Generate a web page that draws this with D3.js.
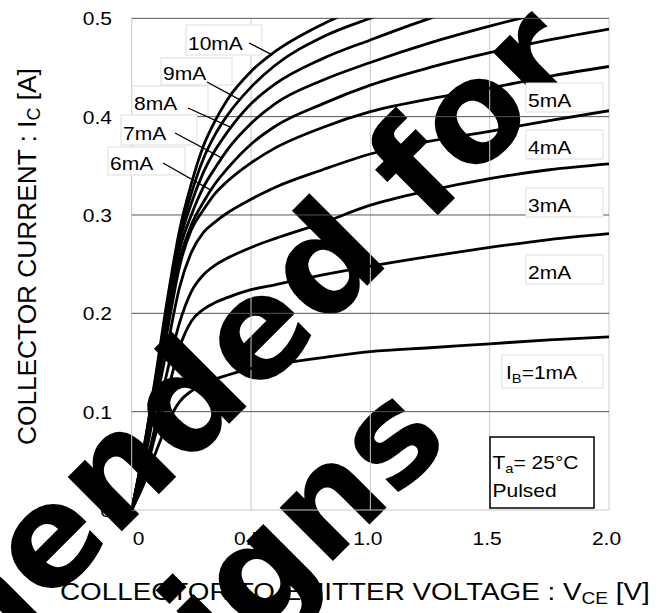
<!DOCTYPE html>
<html>
<head>
<meta charset="utf-8">
<script src="https://cdn.jsdelivr.net/npm/d3@7"></script>
<style>
  body { margin: 0; background: #fff; }
  svg { display: block; }
  text { font-family: "Liberation Sans", Arial, sans-serif; fill: #000; }
</style>
</head>
<body>
<div class="chart"></div>
<script>
// collector voltage grid (V) shared by every curve
const vce = [0, 0.05, 0.1, 0.15, 0.2, 0.25, 0.3, 0.35, 0.4, 0.5, 0.6, 0.8, 1.0, 1.25, 1.5, 1.75, 2.0];

// collector current (A) for each base current
const ic1mA  = [0, 0.026, 0.058, 0.088, 0.11, 0.121, 0.128, 0.133, 0.137, 0.144, 0.148, 0.155, 0.161, 0.165, 0.169, 0.173, 0.176];
const ic2mA  = [0, 0.031, 0.077, 0.12, 0.165, 0.192, 0.204, 0.211, 0.216, 0.224, 0.229, 0.239, 0.248, 0.258, 0.267, 0.275, 0.281];
const ic3mA  = [0, 0.036, 0.087, 0.142, 0.19, 0.222, 0.239, 0.249, 0.256, 0.267, 0.276, 0.292, 0.31, 0.325, 0.337, 0.346, 0.352];
const ic4mA  = [0, 0.046, 0.107, 0.167, 0.226, 0.262, 0.282, 0.293, 0.302, 0.316, 0.328, 0.346, 0.362, 0.375, 0.385, 0.396, 0.406];
const ic5mA  = [0, 0.051, 0.117, 0.183, 0.247, 0.285, 0.305, 0.322, 0.334, 0.353, 0.368, 0.389, 0.405, 0.418, 0.429, 0.441, 0.451];
const ic6mA  = [0, 0.056, 0.123, 0.194, 0.254, 0.29, 0.313, 0.332, 0.347, 0.372, 0.39, 0.413, 0.432, 0.45, 0.465, 0.478, 0.489];
const ic7mA  = [0, 0.058, 0.128, 0.2, 0.264, 0.30, 0.328, 0.348, 0.366, 0.393, 0.413, 0.437, 0.455, 0.475, 0.492, 0.507, 0.52];
const ic8mA  = [0, 0.06, 0.131, 0.205, 0.272, 0.312, 0.343, 0.366, 0.384, 0.413, 0.433, 0.459, 0.478, 0.5, 0.518, 0.535, 0.55];
const ic9mA  = [0, 0.061, 0.133, 0.21, 0.278, 0.322, 0.357, 0.382, 0.401, 0.43, 0.452, 0.481, 0.5, 0.52, 0.54, 0.56, 0.58];
const ic10mA = [0, 0.062, 0.136, 0.215, 0.284, 0.332, 0.37, 0.396, 0.417, 0.446, 0.466, 0.494, 0.515, 0.54, 0.56, 0.58, 0.6];

const series = [ic1mA, ic2mA, ic3mA, ic4mA, ic5mA, ic6mA, ic7mA, ic8mA, ic9mA, ic10mA];

const xTicks = [0, 0.5, 1.0, 1.5, 2.0];
const xTickLabels = ['0', '0.5', '1.0', '1.5', '2.0'];
const yTicks = [0, 0.1, 0.2, 0.3, 0.4, 0.5];
const yTickLabels = ['0', '0.1', '0.2', '0.3', '0.4', '0.5'];

// curve labels on the left with leader lines to the curve (target in V / A)
const leftLabels = [
  { text: '10mA', box: [186, 25, 76, 30], leader: [249, 43], to: [0.587, 0.463] },
  { text: '9mA',  box: [161, 58, 71, 27], leader: [207, 82], to: [0.454, 0.417] },
  { text: '8mA',  box: [132, 86, 76, 29], leader: [188, 108], to: [0.416, 0.389] },
  { text: '7mA',  box: [121, 115, 76, 30], leader: [175, 133], to: [0.377, 0.358] },
  { text: '6mA',  box: [108, 147, 77, 28], leader: [163, 163], to: [0.333, 0.325] }
];
const rightLabels = ['5mA', '4mA', '3mA', '2mA'];
const rightLabelTops = [83, 130, 188, 255];

const watermarkLines = ['Not recommended for', 'new designs'];

const width = 667;
const height = 613;
const plot = { left: 131.7, right: 609, top: 18.3, bottom: 510 };
const stretch = 1.13; // text in the source looks a little wide

const x = d3.scaleLinear().domain([0, 2]).range([plot.left, plot.right]);
const y = d3.scaleLinear().domain([0, 0.5]).range([plot.bottom, plot.top]);

const svg = d3.select('.chart').append('svg')
  .attr('width', width)
  .attr('height', height);

svg.append('rect').attr('width', width).attr('height', height).attr('fill', '#fff');

svg.append('defs').append('clipPath').attr('id', 'clip')
  .append('rect')
    .attr('x', plot.left).attr('y', plot.top)
    .attr('width', plot.right - plot.left).attr('height', plot.bottom - plot.top);

// watermark sits under the chart, two centred lines on a 45 degree diagonal
const wmAnchors = [[-24, 677], [110, 784]];
const wmSizes = [140, 138];
svg.append('g').selectAll('text').data(watermarkLines).enter().append('text')
  .attr('transform', (d, i) => `translate(${wmAnchors[i][0]},${wmAnchors[i][1]}) rotate(-45)`)
  .attr('text-anchor', 'middle')
  .style('font-family', '"DejaVu Sans", sans-serif')
  .attr('font-size', (d, i) => wmSizes[i])
  .attr('font-weight', 'bold')
  .attr('fill', '#000')
  .text(d => d);

// text placed at (px, py), widened by sx
function label(px, py, size, anchor, sx) {
  return svg.append('g')
    .attr('transform', `translate(${px},${py}) scale(${sx || stretch},1)`)
    .append('text')
      .attr('text-anchor', anchor || 'start')
      .attr('font-size', size);
}

// grid
const grid = svg.append('g');
grid.selectAll('line.v').data(xTicks).enter().append('line')
  .attr('x1', d => x(d)).attr('x2', d => x(d))
  .attr('y1', plot.top).attr('y2', plot.bottom)
  .attr('stroke', '#c8c8c8').attr('stroke-width', 1);
grid.selectAll('line.h').data(yTicks).enter().append('line')
  .attr('x1', plot.left).attr('x2', plot.right)
  .attr('y1', d => y(d)).attr('y2', d => y(d))
  .attr('stroke', d => d === 0 ? '#c8c8c8' : '#555')
  .attr('stroke-width', 1);

// tick labels
yTicks.forEach((d, i) => {
  label(112, y(d) + 7, 18.6, 'end').text(yTickLabels[i]);
});
xTicks.forEach((d, i) => {
  label(x(d) + (i === 0 ? 7 : -2.5), 545, 18.6, 'middle').text(xTickLabels[i]);
});

// axis titles
const xTitle = label(60, 600, 23.3, 'start', 1);
xTitle.append('tspan').text('COLLECTOR TO EMITTER VOLTAGE : V');
xTitle.append('tspan').attr('font-size', 16).attr('dy', 4).text('CE');
xTitle.append('tspan').attr('dy', -4).text(' [V]');
const xw = xTitle.node().getBBox().width;
d3.select(xTitle.node().parentNode).attr('transform', `translate(60,600) scale(${590 / xw},1)`);

const yTitleG = svg.append('g').attr('transform', 'translate(35.5,445) rotate(-90)');
const yTitle = yTitleG.append('text').attr('font-size', 25.5);
yTitle.append('tspan').text('COLLECTOR CURRENT : I');
yTitle.append('tspan').attr('font-size', 17.5).attr('dy', 4).text('C');
yTitle.append('tspan').attr('dy', -4).text(' [A]');
const yw = yTitle.node().getBBox().width;
yTitle.attr('transform', `scale(${377 / yw},1)`);

// label boxes
const boxes = svg.append('g');
leftLabels.forEach(l => {
  boxes.append('rect')
    .attr('x', l.box[0]).attr('y', l.box[1])
    .attr('width', l.box[2]).attr('height', l.box[3])
    .attr('fill', '#fff').attr('stroke', '#ddd').attr('stroke-width', 1);
});
rightLabels.forEach((t, i) => {
  boxes.append('rect')
    .attr('x', 526).attr('y', rightLabelTops[i])
    .attr('width', 77).attr('height', 29)
    .attr('fill', '#fff').attr('stroke', '#ddd').attr('stroke-width', 1);
});
boxes.append('rect')
  .attr('x', 502).attr('y', 355).attr('width', 101).attr('height', 33)
  .attr('fill', '#fff').attr('stroke', '#ddd').attr('stroke-width', 1);
boxes.append('rect')
  .attr('x', 490).attr('y', 437).attr('width', 104).attr('height', 71)
  .attr('fill', '#fff').attr('stroke', '#000').attr('stroke-width', 1.5);

// curves
const line = d3.line()
  .x((d, i) => x(vce[i]))
  .y(d => y(d))
  .curve(d3.curveMonotoneX);

svg.append('g').attr('clip-path', 'url(#clip)')
  .selectAll('path').data(series).enter().append('path')
    .attr('d', line)
    .attr('fill', 'none')
    .attr('stroke', '#000')
    .attr('stroke-width', 2.8)
    .attr('stroke-linejoin', 'round');

// leaders + label text
leftLabels.forEach(l => {
  svg.append('line')
    .attr('x1', l.leader[0]).attr('y1', l.leader[1])
    .attr('x2', x(l.to[0])).attr('y2', y(l.to[1]))
    .attr('stroke', '#000').attr('stroke-width', 1.3);
  label(l.box[0] + 2, l.box[1] + l.box[3] - 5, 18.6).text(l.text);
});
rightLabels.forEach((t, i) => {
  label(528, rightLabelTops[i] + 24, 18.6).text(t);
});
const ib = label(506, 379, 18.6);
ib.append('tspan').text('I');
ib.append('tspan').attr('font-size', 13).attr('dy', 4).text('B');
ib.append('tspan').attr('dy', -4).text('=1mA');

const ta = label(492.5, 469, 18.6);
ta.append('tspan').text('T');
ta.append('tspan').attr('font-size', 13).attr('dy', 4).text('a');
ta.append('tspan').attr('dy', -4).text('= 25°C');
label(492.5, 497, 18.6).text('Pulsed');
</script>
</body>
</html>
